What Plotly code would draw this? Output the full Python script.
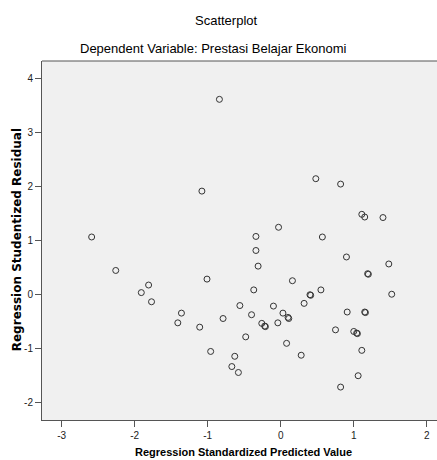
import plotly.graph_objects as go

# Regression Standardized Predicted Value (x) and Studentized Residual (y)
pred = [-0.84, -1.08, -2.59, 0.48, 0.82, 1.11, 1.15, 1.40, -0.03, -0.34,
        0.57, -2.26, -1.81, -1.91, -1.77, -1.36, -1.41, -1.01, -1.11, -0.79,
        -0.56, -0.96, -0.63, -0.67, -0.58, -0.34, 0.90, -0.31, 1.48, 1.19,
        1.20, 0.16, -0.37, 0.55, 0.40, 0.41, 1.52, -0.10, 0.32, -0.40,
        0.03, 0.10, 0.11, 0.91, 1.15, 1.16, -0.26, -0.22, -0.21, -0.04,
        0.75, 1.00, 1.04, 1.05, -0.48, 0.08, 1.11, 0.28, 1.06, 0.82]
resid = [3.61, 1.91, 1.06, 2.14, 2.04, 1.48, 1.43, 1.42, 1.24, 1.07,
         1.06, 0.44, 0.17, 0.03, -0.14, -0.35, -0.53, 0.28, -0.61, -0.45,
         -0.21, -1.06, -1.15, -1.34, -1.45, 0.81, 0.69, 0.52, 0.56, 0.38,
         0.37, 0.25, 0.08, 0.08, -0.01, -0.02, 0.00, -0.22, -0.17, -0.38,
         -0.35, -0.43, -0.45, -0.33, -0.33, -0.34, -0.54, -0.59, -0.60, -0.53,
         -0.66, -0.69, -0.72, -0.73, -0.79, -0.91, -1.04, -1.13, -1.51, -1.72]

x_ticks = [-3, -2, -1, 0, 1, 2]
y_ticks = [-2, -1, 0, 1, 2, 3, 4]

title_main = "Scatterplot"
title_sub = "Dependent Variable: Prestasi Belajar Ekonomi"
x_title = "Regression Standardized Predicted Value"
y_title = "Regression Studentized Residual"

FONT = "Liberation Sans Narrow, Arial Narrow, Liberation Sans, Arial, sans-serif"

fig = go.Figure()
fig.add_trace(go.Scatter(
    x=pred, y=resid, mode="markers",
    marker=dict(symbol="circle-open", size=6, color="#333333",
                line=dict(width=1, color="#333333")),
    hoverinfo="x+y", showlegend=False,
))

axis_common = dict(
    showgrid=False, zeroline=False, showline=True, linecolor="#555555",
    linewidth=1, ticks="outside", ticklen=6, tickcolor="#555555",
    tickfont=dict(family=FONT, size=10, color="#222222"), mirror=False,
)

fig.update_layout(
    width=437, height=460,
    margin=dict(l=42, r=0, t=61, b=40),
    paper_bgcolor="white", plot_bgcolor="#f0f0f0",
    font=dict(family=FONT, color="#000000"),
    xaxis=dict(range=[-3.27, 2.14], tickvals=x_ticks,
               ticktext=[str(v) for v in x_ticks], **axis_common),
    yaxis=dict(range=[-2.33, 4.32], tickvals=y_ticks,
               ticktext=[str(v) for v in y_ticks], **axis_common),
    annotations=[
        dict(text=title_main, x=0.468, y=1.114, xref="paper", yref="paper",
             showarrow=False, xanchor="center", yanchor="middle",
             font=dict(family=FONT, size=13, color="#000")),
        dict(text=title_sub, x=0.435, y=1.036, xref="paper", yref="paper",
             showarrow=False, xanchor="center", yanchor="middle",
             font=dict(family=FONT, size=13, color="#000")),
        dict(text="<b>" + x_title + "</b>", x=0.511, y=-0.089,
             xref="paper", yref="paper", showarrow=False,
             xanchor="center", yanchor="middle",
             font=dict(family="Liberation Sans, Arial, sans-serif", size=11, color="#000")),
        dict(text="<b>" + y_title + "</b>", x=-0.063, y=0.501,
             xref="paper", yref="paper", showarrow=False, textangle=-90,
             xanchor="center", yanchor="middle",
             font=dict(family="DejaVu Sans, Verdana, sans-serif", size=12, color="#000")),
    ],
)

# top frame line
fig.add_shape(type="line", xref="paper", yref="paper", x0=0, x1=1, y0=1, y1=1,
              line=dict(color="#555555", width=1))

fig.write_html("out.html", config={"displayModeBar": False},
               post_script="document.body.style.margin='0';document.body.style.overflow='hidden';")
